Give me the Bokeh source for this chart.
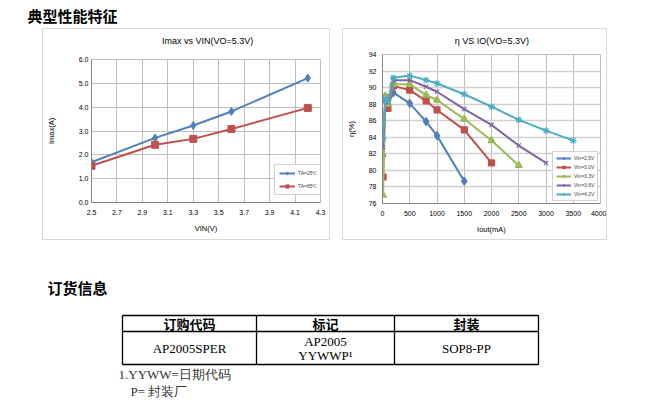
from bokeh.plotting import figure
from bokeh.layouts import column, row
from bokeh.models import Spacer, Range1d, FixedTicker, Legend, LegendItem, PrintfTickFormatter
from bokeh.embed import file_html
from bokeh.resources import INLINE
from bokeh.core.properties import value

# ---------------- data ----------------
section_titles = ["典型性能特征", "订货信息"]

chart1_title = "Imax vs VIN(VO=5.3V)"
chart1_xlabel = "VIN(V)"
chart1_ylabel = "Imax(A)"
chart1_series = ["TA=25℃", "TA=85℃"]
vin_v = [2.5, 3.0, 3.3, 3.6, 4.2]
imax_ta25 = [1.69, 2.71, 3.23, 3.82, 5.22]
imax_ta85 = [1.54, 2.42, 2.67, 3.08, 3.97]
chart1_xticks = [2.5, 2.7, 2.9, 3.1, 3.3, 3.5, 3.7, 3.9, 4.1, 4.3]
chart1_yticks = [0.0, 1.0, 2.0, 3.0, 4.0, 5.0, 6.0]

chart2_title = "η VS IO(VO=5.3V)"
chart2_xlabel = "Iout(mA)"
chart2_ylabel = "η(%)"
chart2_series = ["Vin=2.5V", "Vin=3.0V", "Vin=3.3V", "Vin=3.6V", "Vin=4.2V"]
iout_25 = [10, 50, 100, 200, 500, 800, 1000, 1500]
eff_25 = [81.8, 88.4, 88.0, 89.4, 88.1, 85.9, 84.2, 78.7]
iout_30 = [10, 50, 100, 200, 500, 800, 1000, 1500, 2000]
eff_30 = [79.2, 88.8, 87.5, 90.2, 89.7, 88.4, 87.3, 84.9, 80.9]
iout_33 = [10, 50, 100, 200, 500, 800, 1000, 1500, 2000, 2500]
eff_33 = [77.0, 89.0, 88.0, 90.4, 90.4, 89.1, 88.5, 86.2, 83.6, 80.6]
iout_36 = [10, 50, 100, 200, 500, 800, 1000, 1500, 2000, 2500, 3000]
eff_36 = [82.8, 88.5, 88.2, 90.9, 90.9, 90.1, 89.5, 87.4, 85.5, 83.0, 80.9]
iout_42 = [10, 50, 100, 200, 500, 800, 1000, 1500, 2000, 2500, 3000, 3500]
eff_42 = [83.8, 88.6, 88.4, 91.2, 91.45, 90.9, 90.5, 89.2, 87.7, 86.1, 84.8, 83.6]
chart2_xticks = [0, 500, 1000, 1500, 2000, 2500, 3000, 3500, 4000]
chart2_yticks = [76, 78, 80, 82, 84, 86, 88, 90, 92, 94]

table_header = ["订购代码", "标记", "封装"]
table_row = ["AP2005SPER", "AP2005\nYYWWP¹", "SOP8-PP"]
notes = ["1.YYWW=日期代码", "P= 封装厂"]

# ---------------- styling ----------------
SANS = "Liberation Sans"
SERIF = "Liberation Serif"
CJK = "Noto Sans CJK SC"
GRID = "#bfbfbf"
AXIS = "#868686"
C_BLUE, C_RED, C_GREEN, C_PURPLE, C_CYAN = "#4F81BD", "#C0504D", "#9BBB59", "#8064A2", "#4BACC6"
BORDER_CSS = {"border": "1px solid #d9d9d9"}


def blank_fig(w, h, xr, yr):
    f = figure(width=w, height=h, x_range=Range1d(*xr), y_range=Range1d(*yr),
               output_backend="svg", toolbar_location=None, min_border=0)
    f.axis.visible = False
    f.grid.visible = False
    f.outline_line_color = None
    return f


def title_fig(w, text, cx):
    f = blank_fig(w, 22, (0, w), (22, 0))
    f.text(x=[cx], y=[11], text=[text], text_font=value(SANS), text_font_size="9px",
           text_baseline="middle", text_align="center", text_color="#000000")
    return f


def style_chart(p, xticks, yticks, xfmt, yfmt, ylabel_standoff, ytick_standoff):
    p.xaxis.ticker = FixedTicker(ticks=xticks)
    p.yaxis.ticker = FixedTicker(ticks=yticks)
    p.xaxis.formatter = PrintfTickFormatter(format=xfmt)
    p.yaxis.formatter = PrintfTickFormatter(format=yfmt)
    for ax in (p.xaxis, p.yaxis):
        ax.major_tick_out = 0
        ax.major_tick_in = 0
        ax.minor_tick_out = 0
        ax.minor_tick_in = 0
        ax.axis_line_color = AXIS
        ax.major_label_text_font = SANS
        ax.major_label_text_font_size = "7px"
        ax.major_label_text_color = "#000000"
        ax.axis_label_text_font = SANS
        ax.axis_label_text_font_size = "7.5px"
        ax.axis_label_text_font_style = "normal"
        ax.axis_label_text_color = "#000000"
    p.xaxis.major_label_standoff = 7
    p.xaxis.axis_label_standoff = 6
    p.yaxis.major_label_standoff = ytick_standoff
    p.yaxis.axis_label_standoff = ylabel_standoff
    p.xgrid.grid_line_color = GRID
    p.ygrid.grid_line_color = GRID
    p.outline_line_color = GRID
    p.background_fill_color = "white"
    p.border_fill_color = "white"


# ---------------- chart 1 ----------------
p1 = figure(width=286, height=188, x_range=Range1d(2.5, 4.3), y_range=Range1d(0, 6),
            output_backend="svg", toolbar_location=None,
            x_axis_label=chart1_xlabel, y_axis_label=chart1_ylabel,
            min_border_left=47, min_border_right=9, min_border_top=8, min_border_bottom=37)
style_chart(p1, chart1_xticks, chart1_yticks, "%.1f", "%.1f", 20, 3)

l1a = p1.line(vin_v, imax_ta25, line_color=C_BLUE, line_width=2)
m1a = p1.scatter(vin_v, imax_ta25, marker="diamond", size=8, fill_color=C_BLUE, line_color=C_BLUE)
l1b = p1.line(vin_v, imax_ta85, line_color=C_RED, line_width=2)
m1b = p1.scatter(vin_v, imax_ta85, marker="square", size=7, fill_color=C_RED, line_color=C_RED)
leg1 = Legend(items=[LegendItem(label=chart1_series[0], renderers=[l1a, m1a]),
                     LegendItem(label=chart1_series[1], renderers=[l1b, m1b])],
              location=(183, 7), label_text_font=SANS, label_text_font_size="5px",
              glyph_width=16, glyph_height=8, label_height=8, spacing=5, padding=4,
              margin=0, label_standoff=3, border_line_color="#a6a6a6",
              background_fill_alpha=1.0)
p1.add_layout(leg1)
chart1 = column(title_fig(286, chart1_title, 145), p1, styles=BORDER_CSS)

# ---------------- chart 2 ----------------
p2 = figure(width=263, height=188, x_range=Range1d(0, 4000), y_range=Range1d(76, 94),
            output_backend="svg", toolbar_location=None,
            x_axis_label=chart2_xlabel, y_axis_label=chart2_ylabel,
            min_border_left=37, min_border_right=6, min_border_top=3, min_border_bottom=36)
style_chart(p2, chart2_xticks, chart2_yticks, "%d", "%d", 10, 6)
p2.ygrid.grid_line_color = "#d0d0d0"
p2.ygrid.grid_line_width = 1.5

series2 = [
    (iout_25, eff_25, C_BLUE, "diamond", 8),
    (iout_30, eff_30, C_RED, "square", 6),
    (iout_33, eff_33, C_GREEN, "triangle", 7),
    (iout_36, eff_36, C_PURPLE, "x", 6),
    (iout_42, eff_42, C_CYAN, "asterisk", 7),
]
items2 = []
for (xs, ys, col, mk, sz), name in zip(series2, chart2_series):
    lr = p2.line(xs, ys, line_color=col, line_width=2)
    mr = p2.scatter(xs, ys, marker=mk, size=sz, fill_color=col, line_color=col, line_width=1.2)
    items2.append(LegendItem(label=name, renderers=[lr, mr]))
leg2 = Legend(items=items2, location=(170, 2), label_text_font=SANS, label_text_font_size="5px",
              glyph_width=15, glyph_height=6, label_height=6, spacing=3, padding=3,
              margin=0, label_standoff=3, border_line_color="#a6a6a6",
              background_fill_alpha=1.0)
p2.add_layout(leg2)
chart2 = column(title_fig(263, chart2_title, 132), p2, styles=BORDER_CSS)

# ---------------- page header ----------------
top = blank_fig(659, 28, (0, 659), (28, 0))
top.text(x=[27], y=[15], text=[section_titles[0]], text_font=value(CJK), text_font_style="bold",
         text_font_size="15px", text_baseline="middle", text_align="left", text_color="#000000")

# ---------------- ordering info ----------------
bot = blank_fig(659, 171, (0, 659), (413, 242))
bot.text(x=[47], y=[289], text=[section_titles[1]], text_font=value(CJK), text_font_style="bold",
         text_font_size="15px", text_baseline="middle", text_align="left", text_color="#000000")

tl, tr, tt, tb, th = 122, 538, 317, 366, 333
cols = [122, 256, 394, 538]
bot.segment(x0=[tl, tl, tl, tl, cols[1], cols[2], tr], y0=[tt, th, tb, tt, tt, tt, tt],
            x1=[tr, tr, tr, tl, cols[1], cols[2], tr], y1=[tt, th, tb, tb, tb, tb, tb],
            line_color="black", line_width=1.3)
centers = [(cols[i] + cols[i + 1]) / 2 for i in range(3)]
bot.text(x=centers, y=[325] * 3, text=table_header, text_font=value(CJK), text_font_style="bold",
         text_font_size="13px", text_baseline="middle", text_align="center", text_color="#000000")
bot.text(x=[centers[0], centers[2]], y=[350, 350], text=[table_row[0], table_row[2]],
         text_font=value(SERIF), text_font_size="13px", text_baseline="middle",
         text_align="center", text_color="#000000")
mark_lines = table_row[1].split("\n")
bot.text(x=[centers[1], centers[1]], y=[343, 357], text=mark_lines,
         text_font=value(SERIF), text_font_size="13px", text_baseline="middle",
         text_align="center", text_color="#000000")
bot.text(x=[118, 130], y=[376, 393], text=notes, text_font=value(SERIF), text_font_size="13px",
         text_baseline="middle", text_align="left", text_color="#333333")

layout = column(
    top,
    row(Spacer(width=42, height=212), chart1, Spacer(width=12, height=212), chart2,
        Spacer(width=52, height=212)),
    bot,
)

open("out.html", "w").write(file_html(layout, INLINE))
